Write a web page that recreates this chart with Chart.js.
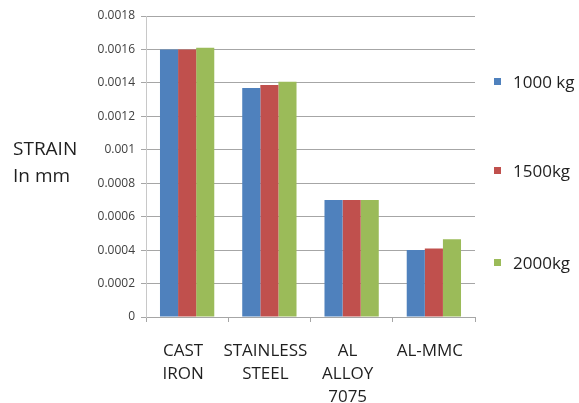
<!DOCTYPE html>
<html>
<head>
<meta charset="utf-8">
<script src="https://cdn.jsdelivr.net/npm/chart.js@4"></script>
<style>
    body { margin: 0; background: #fff; }
    #wrap { position: relative; width: 579px; height: 403px; }
    #wrap canvas { position: absolute; left: 0; top: 0; }
    .y-title { position: absolute; left: 13px; top: 135px; font: 19px/27px "Open Sans", sans-serif; color: #1f1f1f; }
    .legend { position: absolute; left: 494px; top: 0; font: 17px "Open Sans", sans-serif; color: #1f1f1f; }
    .legend-item { position: absolute; left: 0; display: flex; align-items: center; white-space: nowrap; height: 20px; }
    .legend-box { width: 7px; height: 7px; margin-right: 12px; }
</style>
</head>
<body>
<div id="wrap">
    <canvas id="chart" width="579" height="403"></canvas>
    <div class="y-title">STRAIN<br>In mm</div>
    <div class="legend" id="legend"></div>
</div>
<script>
// ============================================
// Strain per material under three loads
// ============================================

const categories = [['CAST', 'IRON'], ['STAINLESS', 'STEEL'], ['AL', 'ALLOY', '7075'], 'AL-MMC'];
const seriesNames = ['1000 kg', '1500kg', '2000kg'];
const seriesColors = ['#4f81bd', '#c0504d', '#9bbb59'];

const strain1000 = [0.0016, 0.00137, 0.0007, 0.0004];
const strain1500 = [0.0016, 0.001388, 0.0007, 0.00041];
const strain2000 = [0.00161, 0.001407, 0.0007, 0.000465];

const yTickLabels = ['0', '0.0002', '0.0004', '0.0006', '0.0008', '0.001', '0.0012', '0.0014', '0.0016', '0.0018'];

const seriesData = [strain1000, strain1500, strain2000];

// legend built from the series arrays (items spread down the right side)
const legendTops = [71, 160, 252];
const legendEl = document.getElementById('legend');
seriesNames.forEach((name, i) => {
    legendEl.innerHTML += `
        <div class="legend-item" style="top:${legendTops[i]}px">
            <span class="legend-box" style="background:${seriesColors[i]}"></span>${name}
        </div>`;
});

new Chart(document.getElementById('chart'), {
    type: 'bar',
    data: {
        labels: categories,
        datasets: seriesNames.map((name, i) => ({
            label: name,
            data: seriesData[i],
            backgroundColor: seriesColors[i],
            borderWidth: 0,
            categoryPercentage: 0.66,
            barPercentage: 1
        }))
    },
    options: {
        responsive: false,
        animation: false,
        layout: { padding: { top: 16, right: 104, left: 0, bottom: 0 } },
        plugins: {
            legend: { display: false },
            tooltip: { enabled: false }
        },
        scales: {
            x: {
                afterFit(scale) { scale.height = 86; },
                grid: { drawOnChartArea: false, drawTicks: true, tickLength: 5, color: '#a6a6a6' },
                border: { color: '#a6a6a6' },
                ticks: {
                    color: '#1f1f1f',
                    padding: 18,
                    maxRotation: 0,
                    autoSkip: false,
                    labelOffset: -4,
                    font: { family: 'Open Sans', size: 17, lineHeight: 1.35 }
                }
            },
            y: {
                min: 0,
                max: 0.0018,
                afterFit(scale) { scale.width = 146; },
                grid: { color: '#a6a6a6', tickLength: 5 },
                border: { color: '#c8c8c8' },
                ticks: {
                    stepSize: 0.0002,
                    color: '#404040',
                    padding: 6,
                    font: { family: 'Open Sans', size: 12 },
                    callback: (value, index) => yTickLabels[index]
                }
            }
        }
    }
});
</script>
</body>
</html>
